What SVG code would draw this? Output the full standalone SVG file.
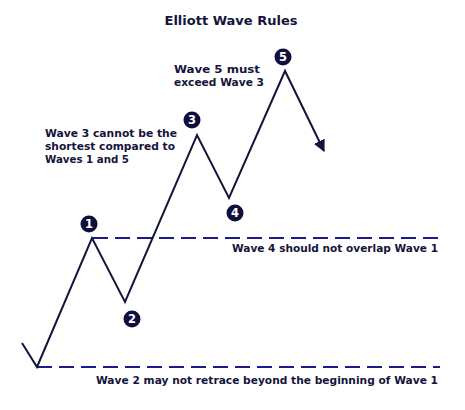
<svg xmlns="http://www.w3.org/2000/svg" width="465" height="410" viewBox="0 0 465 410">
<style>
.t{font-family:"DejaVu Sans","Liberation Sans",sans-serif;font-weight:bold;font-size:11px;fill:#14143c}
.n{font-family:"DejaVu Sans","Liberation Sans",sans-serif;font-weight:bold;font-size:11.5px;fill:#fff;text-anchor:middle}
.c{fill:#0f0f3c}
.w{fill:none;stroke:#14143c;stroke-width:2}
.d{fill:none;stroke:#1a1a8c;stroke-width:2;stroke-dasharray:15 7}
</style>
<defs>
<marker id="ah" viewBox="0 0 10 10" refX="9" refY="5" markerWidth="6" markerHeight="6" orient="auto" markerUnits="strokeWidth">
<path d="M0,0 L10,5 L0,10 z" fill="#14143c"/>
</marker>
</defs>
<rect width="465" height="410" fill="#fff"/>
<text class="t" x="231" y="25" text-anchor="middle" style="font-size:12.5px" textLength="133" lengthAdjust="spacingAndGlyphs">Elliott Wave Rules</text>
<g id="connectors">
<line class="d" x1="93" y1="238" x2="440" y2="238"/>
<line class="d" x1="37" y1="367" x2="440" y2="367"/>
<polyline class="w" points="22,343 37,367 92,238 125,302 197,135 229,198 285,71 324,151" marker-end="url(#ah)"/>
</g>
<g id="n1"><circle class="c" cx="89" cy="224" r="8.5"/><text class="n" x="89" y="228">1</text></g>
<g id="n2"><circle class="c" cx="132" cy="319" r="8.5"/><text class="n" x="132" y="323">2</text></g>
<g id="n3"><circle class="c" cx="192" cy="120" r="8.5"/><text class="n" x="192" y="124">3</text></g>
<g id="n4"><circle class="c" cx="235" cy="213" r="8.5"/><text class="n" x="235" y="217">4</text></g>
<g id="n5"><circle class="c" cx="283" cy="57" r="8.5"/><text class="n" x="283" y="61">5</text></g>
<g id="labels">
<text class="t" x="174" y="73" textLength="86" lengthAdjust="spacingAndGlyphs">Wave 5 must</text>
<text class="t" x="174" y="86" textLength="90" lengthAdjust="spacingAndGlyphs">exceed Wave 3</text>
<text class="t" x="45" y="137" textLength="132" lengthAdjust="spacingAndGlyphs">Wave 3 cannot be the</text>
<text class="t" x="45" y="150" textLength="130" lengthAdjust="spacingAndGlyphs">shortest compared to</text>
<text class="t" x="45" y="163" textLength="84" lengthAdjust="spacingAndGlyphs">Waves 1 and 5</text>
<text class="t" x="232" y="252" textLength="206" lengthAdjust="spacingAndGlyphs">Wave 4 should not overlap Wave 1</text>
<text class="t" x="96" y="384" textLength="342" lengthAdjust="spacingAndGlyphs">Wave 2 may not retrace beyond the beginning of Wave 1</text>
</g>
</svg>
